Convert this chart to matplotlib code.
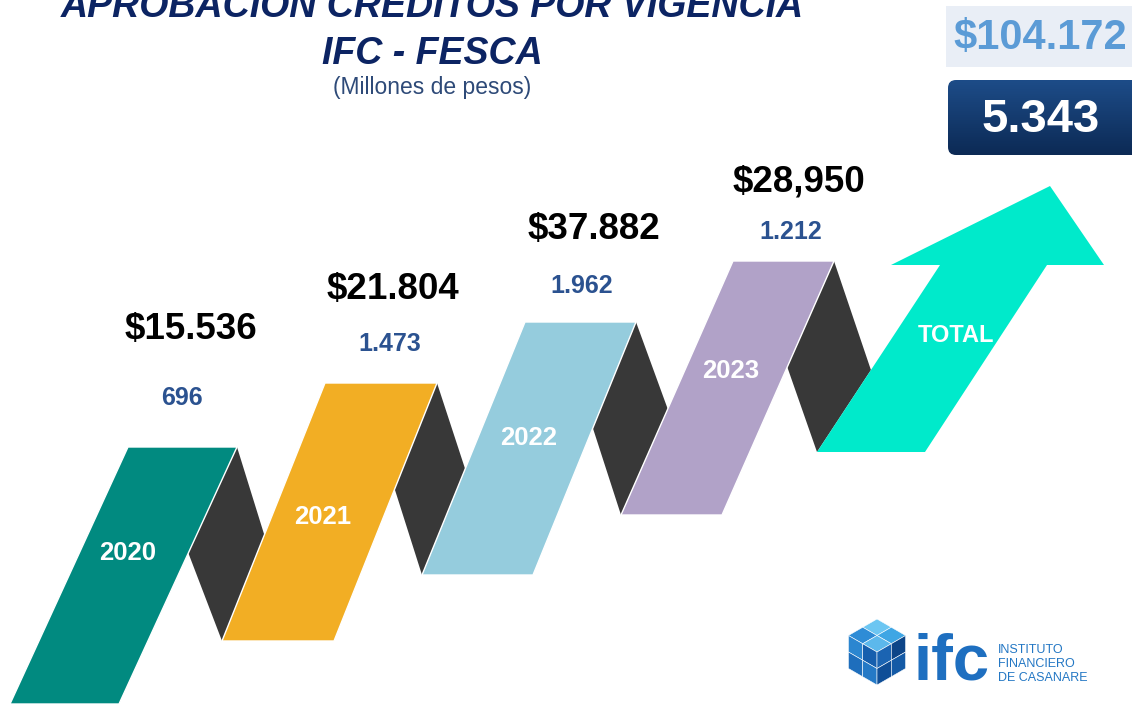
import numpy as np
import matplotlib
matplotlib.use('Agg')
import matplotlib.pyplot as plt
from matplotlib.patches import Polygon, FancyBboxPatch, Rectangle

plt.rcParams['font.family'] = ['Liberation Sans', 'DejaVu Sans']

# --- DATA ---
years = ['2020', '2021', '2022', '2023']
amounts = ['$15.536', '$21.804', '$37.882', '$28,950']
counts = ['696', '1.473', '1.962', '1.212']
total_amount = '$104.172'
total_count = '5.343'

# --- LAYOUT (pixel space, y grows downward) ---
W, H = 1132, 704
rib_top = [447, 383, 322, 261]
rib_bot = [704, 641, 575, 515]
rib_tl_x = [128, 325, 525, 733]
rib_bl_x = [10, 222, 422, 621]
rib_w = [109, 112, 111, 101]
rib_colors = ['#018A80', '#F2AE24', '#95CCDD', '#B1A2C8']
DARK = '#383838'
ARROW = '#00EACB'
NAVY = '#0C2463'
COUNT_C = '#2B5290'

amount_xy = [(191, 330), (393, 290), (594, 229), (799, 182)]
count_xy = [(182, 398), (390, 344), (582, 286), (791, 232)]
year_xy = [(128, 553), (323, 517), (529, 438), (731, 371)]

# arrow: bottom-left, bottom-right, shaft-right, head-right, tip, head-left, shaft-left
arrow_bl, arrow_br = (817, 452), (925, 452)
arrow_shaft_y = 265
arrow_shaft_l, arrow_shaft_r = 940, 1047
arrow_head_l, arrow_head_r = 891, 1104
arrow_tip = (1050, 186)

fig = plt.figure(figsize=(W / 100, H / 100), dpi=100)
ax = fig.add_axes([0, 0, 1, 1])
ax.set_xlim(0, W)
ax.set_ylim(H, 0)
ax.axis('off')


def x_on(p0, p1, y):
    # x of the line p0-p1 at height y
    return p0[0] + (p1[0] - p0[0]) * (y - p0[1]) / (p1[1] - p0[1])


# ribbon corner points
ribbons = []
for i in range(4):
    tl = (rib_tl_x[i], rib_top[i])
    tr = (rib_tl_x[i] + rib_w[i], rib_top[i])
    bl = (rib_bl_x[i], rib_bot[i])
    br = (rib_bl_x[i] + rib_w[i], rib_bot[i])
    ribbons.append((tl, tr, br, bl))

arrow_pts = [arrow_bl, arrow_br, (arrow_shaft_r, arrow_shaft_y), (arrow_head_r, arrow_shaft_y),
             arrow_tip, (arrow_head_l, arrow_shaft_y), (arrow_shaft_l, arrow_shaft_y)]

# --- dark folds between ribbons ---
for i in range(4):
    tl, tr, br, bl = ribbons[i]
    top = tr
    ly = tr[1] + 106
    left = (x_on(tr, br, ly), ly)
    if i < 3:
        ntl, ntr, nbr, nbl = ribbons[i + 1]
        bottom = nbl
        ry = nbl[1] - 106
        right = (x_on(nbl, ntl, ry), ry)
    else:
        bottom = arrow_bl
        ry = arrow_bl[1] - 82
        right = (x_on(arrow_bl, (arrow_shaft_l, arrow_shaft_y), ry), ry)
    ax.add_patch(Polygon([top, right, bottom, left], closed=True, facecolor=DARK,
                         edgecolor='none', zorder=1))

# --- ribbons ---
for i in range(4):
    ax.add_patch(Polygon(ribbons[i], closed=True, facecolor=rib_colors[i],
                         edgecolor='white', lw=1.0, zorder=2))
    ax.text(*year_xy[i], years[i], color='white', fontsize=18.5, fontweight='bold',
            ha='center', va='center', zorder=3)
    ax.text(*amount_xy[i], amounts[i], color='black', fontsize=26.5, fontweight='bold',
            ha='center', va='center', zorder=3)
    ax.text(*count_xy[i], counts[i], color=COUNT_C, fontsize=18, fontweight='bold',
            ha='center', va='center', zorder=3)

# --- total arrow ---
ax.add_patch(Polygon(arrow_pts, closed=True, facecolor=ARROW, edgecolor='none', zorder=2))
ax.text(956, 336, 'TOTAL', color='white', fontsize=17, fontweight='bold',
        ha='center', va='center', zorder=3)

# --- titles ---
ax.text(432, 17, 'APROBACION CREDITOS POR VIGENCIA', color=NAVY, fontsize=27,
        fontweight='bold', fontstyle='italic', ha='center', va='baseline')
ax.text(432, 64, 'IFC - FESCA', color=NAVY, fontsize=27,
        fontweight='bold', fontstyle='italic', ha='center', va='baseline')
ax.text(432, 94, '(Millones de pesos)', color='#2E4A78', fontsize=16.5,
        ha='center', va='baseline')

# --- totals boxes ---
ax.add_patch(Rectangle((946, 6), W - 946, 61, facecolor='#E9EEF6', edgecolor='none'))
ax.text(1040, 38, total_amount, color='#5B9BD6', fontsize=30, fontweight='bold',
        ha='center', va='center')

box = FancyBboxPatch((948, 80), W - 948 + 20, 75, boxstyle='round,pad=0,rounding_size=8',
                     facecolor='none', edgecolor='none')
ax.add_patch(box)
grad = np.linspace(0, 1, 100).reshape(-1, 1)
im = ax.imshow(grad, cmap=matplotlib.colors.LinearSegmentedColormap.from_list(
    'navy', ['#1D4C88', '#0C2A55']), extent=(948, W, 155, 80), aspect='auto', zorder=1)
im.set_clip_path(box)
ax.text(1041, 120, total_count, color='white', fontsize=34, fontweight='bold',
        ha='center', va='center', zorder=3)
ax.set_xlim(0, W)
ax.set_ylim(H, 0)

# --- logo ---
cx, cy, r = 877, 652, 33
hx, hy = r * np.cos(np.pi / 6), r / 2
shades_top = ['#6CC6F2', '#3FA6E4', '#2E8CD6', '#5CB8EC']
shades_left = ['#2B86D0', '#1E6EBC', '#165FAE', '#2479C6']
shades_right = ['#1B64B2', '#0F4E97', '#0D4588', '#145AA6']


def face(origin, u, v, cols):
    for a in range(2):
        for b in range(2):
            p0 = (origin[0] + a * u[0] / 2 + b * v[0] / 2, origin[1] + a * u[1] / 2 + b * v[1] / 2)
            pts = [p0, (p0[0] + u[0] / 2, p0[1] + u[1] / 2),
                   (p0[0] + u[0] / 2 + v[0] / 2, p0[1] + u[1] / 2 + v[1] / 2),
                   (p0[0] + v[0] / 2, p0[1] + v[1] / 2)]
            ax.add_patch(Polygon(pts, closed=True, facecolor=cols[a * 2 + b],
                                 edgecolor='white', lw=0.4))


face((cx, cy - r), (-hx, hy), (hx, hy), shades_top)
face((cx - hx, cy - hy), (hx, hy), (0, r), shades_left)
face((cx, cy), (hx, -hy), (0, r), shades_right)

ax.text(913, 680, 'ifc', color='#1E6FC0', fontsize=47, fontweight='bold',
        ha='left', va='baseline')
for k, line in enumerate(['INSTITUTO', 'FINANCIERO', 'DE CASANARE']):
    ax.text(998, 653 + 14 * k, line, color='#2377C4', fontsize=9,
            ha='left', va='baseline')

fig.savefig('out.png', dpi=100)
